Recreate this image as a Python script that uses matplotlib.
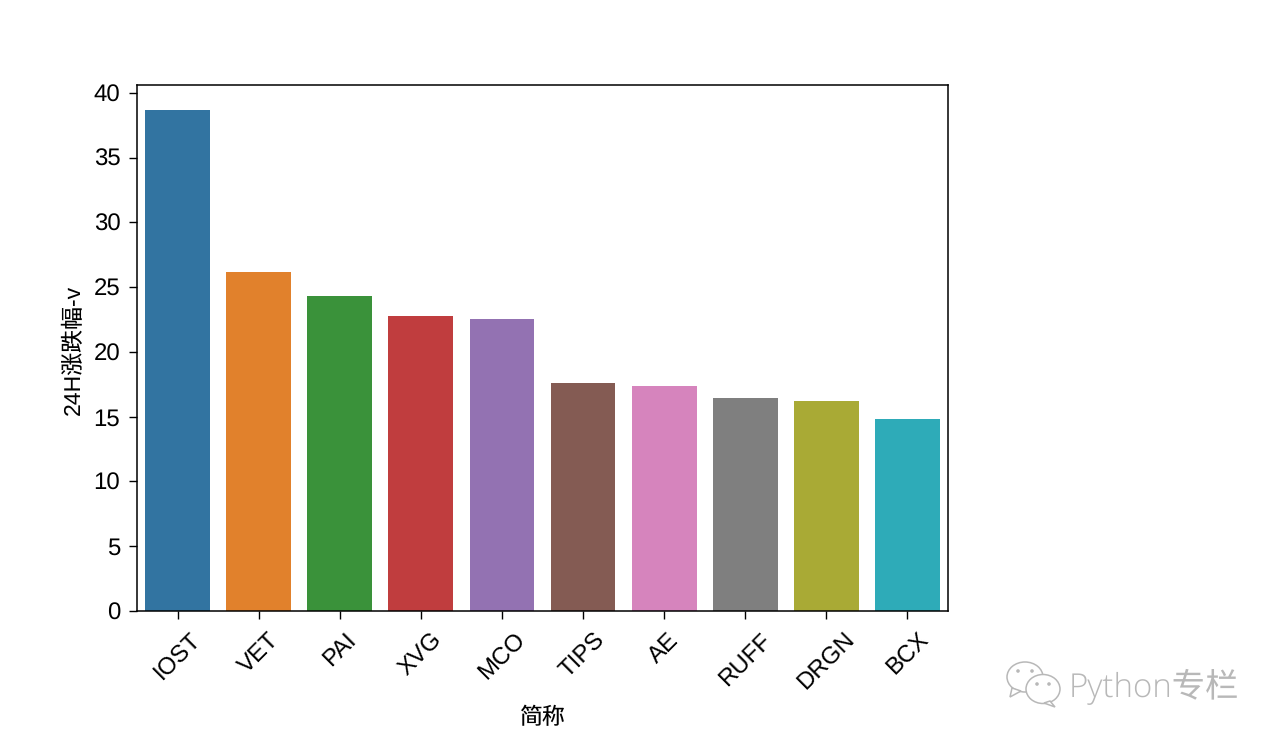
"""Barras de 24H por criptomoneda, estilo seaborn."""
import matplotlib
matplotlib.use("Agg")
import matplotlib.pyplot as plt
from matplotlib.patches import Ellipse, Polygon, Circle

plt.rcParams['font.family'] = ['Liberation Sans', 'Noto Sans CJK SC', 'DejaVu Sans']
plt.rcParams['text.hinting'] = 'none'
plt.rcParams['text.hinting_factor'] = 1

simbolos = ["IOST", "VET", "PAI", "XVG", "MCO", "TIPS", "AE", "RUFF", "DRGN", "BCX"]
valores = [38.7, 26.2, 24.3, 22.8, 22.55, 17.6, 17.4, 16.45, 16.2, 14.8]
colores = ["#3274a1", "#e1812c", "#3a923a", "#c03d3e", "#9372b2",
           "#845b53", "#d684bd", "#7f7f7f", "#a9aa35", "#2eabb8"]
marca = "Python专栏"

W, H = 1280, 745
fig = plt.figure(figsize=(W / 100, H / 100), dpi=100)
ax = fig.add_axes([137 / W, 1 - 611 / H, (948 - 137) / W, (611 - 85) / H])

ax.bar(range(len(simbolos)), valores, width=0.8, color=colores)
ax.set_xlim(-0.5, 9.5)
ax.set_ylim(0, 40.6)
ax.set_xticks(range(len(simbolos)))
ax.set_xticklabels(simbolos, rotation=45, fontsize=17)
ax.set_yticks(range(0, 41, 5))
ax.tick_params(axis="y", labelsize=17.5, length=6, width=1.0, pad=6)
ax.tick_params(axis="x", length=6, width=1.0, pad=7)
for s in ax.spines.values():
    s.set_linewidth(1.1)
ax.set_xlabel("简称", fontsize=16.5, labelpad=9)
ax.set_ylabel("24H涨跌幅-v", fontsize=16.5)
ax.yaxis.set_label_coords(-0.065, 0.497)

# Marca de agua
gris = "#b8b8b8"
fig.text(1069 / W, 1 - 686 / H, marca, fontsize=24, color=gris,
         ha="left", va="center", family=['Open Sans', 'Noto Sans CJK SC'], fontweight="light")
ov = fig.add_axes([0, 0, 1, 1], facecolor="none")
ov.set_xlim(0, W)
ov.set_ylim(H, 0)
ov.axis("off")
ov.add_patch(Ellipse((1025, 677), 36, 30, fc="white", ec=gris, lw=1.1))
ov.add_patch(Polygon([(1012, 688), (1010, 697), (1021, 691)], fc="white", ec=gris, lw=1.1))
ov.add_patch(Ellipse((1043, 689), 34, 29, fc="white", ec=gris, lw=1.1, zorder=3))
ov.add_patch(Polygon([(1050, 701), (1055, 707), (1044, 703)], fc="white", ec=gris, lw=1.1, zorder=3))
for cx, cy, z in [(1018, 671, 2), (1032, 671, 2), (1037, 684, 4), (1049, 684, 4)]:
    ov.add_patch(Circle((cx, cy), 1.8, fc=gris, ec="none", zorder=z))

fig.savefig("out.png", dpi=100)
